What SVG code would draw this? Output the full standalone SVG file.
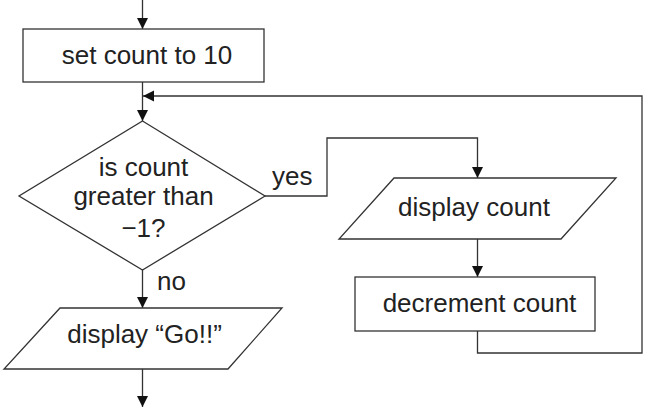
<svg xmlns="http://www.w3.org/2000/svg" width="653" height="419" viewBox="0 0 653 419">
<style>
.s{fill:#fff;stroke:#333;stroke-width:1.3}
.c{fill:none;stroke:#333;stroke-width:1.3}
text{font-family:"Liberation Sans",Arial,sans-serif;font-size:26px;fill:#222}
.m{text-anchor:middle}
</style>
<defs>
<marker id="a" markerUnits="userSpaceOnUse" markerWidth="12" markerHeight="12" refX="11" refY="5.5" orient="auto"><path d="M0,0 L11,5.5 L0,11 z" fill="#111"/></marker>
</defs>
<rect width="653" height="419" fill="#fff"/>
<g id="connectors">
<path class="c" d="M142.5,0 V29" marker-end="url(#a)"/>
<path class="c" d="M142.5,82 V121" marker-end="url(#a)"/>
<path class="c" d="M265,196 H327 V138 H477.5 V178" marker-end="url(#a)"/>
<path class="c" d="M477.5,239 V277" marker-end="url(#a)"/>
<path class="c" d="M477.5,331 V353 H642 V96 H143" marker-end="url(#a)"/>
<path class="c" d="M142.5,270 V308" marker-end="url(#a)"/>
<path class="c" d="M142.5,369 V407" marker-end="url(#a)"/>
<text x="272" y="185">yes</text>
<text x="157" y="290">no</text>
</g>
<g id="set">
<rect class="s" x="23" y="29" width="241" height="53"/>
<text class="m" x="147" y="64">set count to 10</text>
</g>
<g id="decision">
<polygon class="s" points="142.5,121 265,196 142.5,270 19,196"/>
<text class="m" x="143.5" y="176">is count</text>
<text class="m" x="143.5" y="205">greater than</text>
<text class="m" x="143.5" y="237">−1?</text>
</g>
<g id="displaycount">
<polygon class="s" points="394,178 616,178 561,239 339,239"/>
<text class="m" x="474" y="216">display count</text>
</g>
<g id="decrement">
<rect class="s" x="355" y="277" width="240" height="54"/>
<text class="m" x="479.5" y="312">decrement count</text>
</g>
<g id="displaygo">
<polygon class="s" points="60,308 282,308 228,369 4,369"/>
<text class="m" x="144.5" y="343">display “Go!!”</text>
</g>
</svg>
